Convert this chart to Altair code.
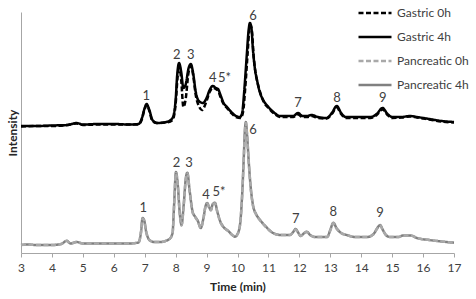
import altair as alt
import pandas as pd

# ---- data (time in min, intensity in arbitrary units) ----
g4_t = [3.0, 3.5, 4.0, 4.5, 4.8, 5.0, 5.5, 6.0, 6.5, 6.8, 6.9, 7.0, 7.06, 7.15, 7.25, 7.4, 7.7, 7.9,
        8.0, 8.05, 8.11, 8.18, 8.25, 8.32, 8.42, 8.49, 8.56, 8.65, 8.75, 8.88, 9.0, 9.1, 9.2, 9.3,
        9.37, 9.45, 9.55, 9.66, 9.8, 9.95, 10.08, 10.15, 10.22, 10.3, 10.36, 10.4, 10.45, 10.5,
        10.56, 10.63, 10.72, 10.83, 11.0, 11.2, 11.37, 11.6, 11.8, 11.96, 12.1, 12.25, 12.4, 12.6,
        12.88, 13.05, 13.21, 13.35, 13.5, 14.0, 14.3, 14.5, 14.69, 14.85, 15.0, 15.3, 15.58, 15.8,
        16.2, 16.6, 17.0]
g4_v = [127, 127, 127.5, 128, 130, 128.5, 129, 129, 128.5, 129, 134, 145, 149, 143, 133, 130, 131, 135,
        153, 178, 190, 181, 165, 168, 185, 189, 181, 161, 152, 150, 155, 163, 167, 165,
        164, 158, 150, 146, 141, 137, 136, 140, 163, 198, 223, 230, 225, 203,
        185, 173, 161, 153, 146, 140, 137, 137, 137, 140, 137, 137, 138, 136,
        135, 140, 147, 140, 136, 136, 136, 139, 145, 139, 136, 136, 137, 136,
        134, 132, 131]

g0_t = [3.0, 3.5, 4.0, 4.5, 4.8, 5.0, 5.5, 6.0, 6.5, 6.8, 6.9, 7.0, 7.07, 7.15, 7.25, 7.4, 7.7, 7.9,
        8.0, 8.06, 8.12, 8.18, 8.25, 8.32, 8.42, 8.5, 8.57, 8.65, 8.75, 8.85, 9.0, 9.1, 9.2, 9.3,
        9.38, 9.45, 9.55, 9.66, 9.8, 9.95, 10.1, 10.18, 10.25, 10.33, 10.38, 10.42, 10.47, 10.52,
        10.58, 10.65, 10.75, 10.85, 11.0, 11.2, 11.37, 11.6, 11.8, 11.96, 12.1, 12.25, 12.4, 12.6,
        12.88, 13.05, 13.21, 13.35, 13.5, 14.0, 14.3, 14.5, 14.69, 14.85, 15.0, 15.3, 15.58, 15.8,
        16.2, 16.6, 17.0]
g0_v = [126.5, 127, 127, 128, 129.5, 128, 128.5, 128.5, 128.5, 128.5, 133, 144, 148, 142, 132, 130, 130.5, 133,
        149, 175, 188, 173, 146, 153, 181, 187, 177, 158, 147, 143, 152, 161, 165, 164,
        162, 156, 149, 145, 140, 136, 135, 141, 165, 201, 223, 228, 221, 198,
        181, 170, 159, 151, 145, 139, 136, 136, 136, 138.5, 136, 136, 137, 135,
        134.5, 139, 145.5, 139, 135, 135, 135, 138, 143.5, 138, 135, 135.5, 136.5, 135.5,
        133.5, 131.5, 130.5]

p4_t = [3.0, 3.2, 3.5, 4.0, 4.3, 4.48, 4.6, 4.8, 5.0, 5.5, 6.0, 6.5, 6.8, 6.88, 6.93, 6.98, 7.05, 7.15,
        7.3, 7.5, 7.8, 7.9, 7.95, 8.01, 8.07, 8.13, 8.19, 8.26, 8.33, 8.38, 8.45, 8.55, 8.63, 8.72,
        8.81, 8.9, 8.96, 9.02, 9.08, 9.14, 9.2, 9.27, 9.35, 9.45, 9.54, 9.7, 9.85, 9.92, 10.0, 10.08,
        10.15, 10.2, 10.24, 10.27, 10.31, 10.36, 10.42, 10.5, 10.6, 10.73, 10.9, 11.15, 11.4, 11.7,
        11.8, 11.88, 11.95, 12.04, 12.14, 12.24, 12.35, 12.5, 12.9, 13.0, 13.1, 13.2, 13.35, 13.53,
        13.8, 14.2, 14.4, 14.52, 14.61, 14.7, 14.8, 14.93, 15.2, 15.35, 15.6, 15.8, 16.2, 16.6, 17.0]
p4_v = [8, 8.5, 8, 8, 9, 12.3, 9.5, 11, 9.5, 9.5, 9.5, 9.5, 10.5, 21, 35, 33, 21, 13,
        11, 11, 14, 20, 48, 81, 68, 41, 28, 48, 75, 80.3, 63, 41, 36.3, 32,
        25, 35, 46, 50, 46, 43, 49, 50.3, 41, 31, 26.3, 22, 17.5, 16.3, 19, 28,
        58, 93, 123, 131, 118, 93, 68, 48, 39, 33, 27, 20, 18, 18,
        21, 24, 21, 17, 19.5, 21.3, 18, 16, 16, 23, 30.3, 25, 20, 18,
        16, 16, 19, 25, 28, 23, 18, 16, 16, 17.5, 17.5, 15, 13, 11.5, 10.3]

p0_t = p4_t
p0_v = [8, 8.5, 8, 8, 9, 12, 9.5, 11, 9.5, 9.5, 9.5, 9.5, 10.5, 20.5, 34.5, 32.5, 20.5, 13,
        11, 11, 14, 19.5, 47, 80, 67, 40, 27.5, 47, 74, 79.5, 62, 40.5, 36, 31.5,
        25, 34.5, 45.5, 49.5, 45.5, 42.5, 48.5, 49.8, 40.5, 30.5, 26, 22, 17.5, 16.3, 18.5, 27.5,
        57, 92, 122, 130, 117, 92, 67, 47.5, 38.5, 32.5, 26.5, 20, 18, 18,
        21, 23.5, 21, 17, 19.5, 21, 18, 16, 16, 22.5, 30, 24.5, 20, 18,
        16, 16, 19, 24.5, 27.5, 23, 18, 16, 16, 17.5, 17.5, 15, 13, 11.5, 10.3]

series_names = ["Gastric 0h", "Gastric 4h", "Pancreatic 0h", "Pancreatic 4h"]
series_colors = ["#000000", "#000000", "#a9a9a9", "#808080"]
series_dash = [[5, 2.5], [1, 0], [5, 2.5], [1, 0]]
series_width = [2.5, 2.5, 1.5, 3]

# peak labels
lab_text = ["1", "2", "3", "4", "5*", "6", "7", "8", "9",
            "1", "2", "3", "4", "5*", "6", "7", "8", "9"]
lab_t = [7.05, 8.04, 8.49, 9.2, 9.58, 10.5, 11.96, 13.22, 14.7,
         6.95, 8.03, 8.43, 8.98, 9.4, 10.5, 11.88, 13.1, 14.61]
lab_v = [157, 198, 198, 175, 175, 237, 150, 155, 155,
         45, 90, 90, 58, 61, 123, 34, 41, 40]

x_ticks = list(range(3, 18))

frames = []
for name, t, v in zip(series_names, [g0_t, g4_t, p0_t, p4_t], [g0_v, g4_v, p0_v, p4_v]):
    frames.append(pd.DataFrame({"time": t, "intensity": v, "series": name}))
df = pd.concat(frames, ignore_index=True)
labels = pd.DataFrame({"time": lab_t, "intensity": lab_v, "text": lab_text})

FONT = "Lato"

x = alt.X("time:Q", scale=alt.Scale(domain=[3, 17], nice=False, zero=False),
          axis=alt.Axis(values=x_ticks, tickCount=15, title="Time (min)", grid=False,
                        labelFontSize=12, labelColor="#404040", labelFont=FONT,
                        tickColor="#a6a6a6", labelOverlap=False, labelFlush=False,
                        labelBound=False, format="d",
                        domainColor="#a6a6a6", tickSize=4, labelPadding=5,
                        titleFont=FONT, titleFontSize=12, titleFontWeight="bold",
                        titleColor="#262626", titlePadding=8))
y = alt.Y("intensity:Q", scale=alt.Scale(domain=[0, 241], nice=False),
          axis=alt.Axis(labels=False, ticks=False, grid=False, title="Intensity",
                        domainColor="#a6a6a6", titleFont=FONT, titleFontSize=12,
                        titleFontWeight="bold", titleColor="#262626", titlePadding=2))

color = alt.Color("series:N", scale=alt.Scale(domain=series_names, range=series_colors),
                  legend=alt.Legend(title=None, orient="none", legendX=336, legendY=-17,
                                    symbolType="stroke", symbolSize=1089, symbolStrokeWidth=2.5,
                                    labelFont=FONT, labelFontSize=12, labelColor="#404040",
                                    labelOffset=4, rowPadding=-10))
dash = alt.StrokeDash("series:N", scale=alt.Scale(domain=series_names, range=series_dash))
size = alt.StrokeWidth("series:N", scale=alt.Scale(domain=series_names, range=series_width))

base = alt.Chart(df)
layers = []
for name in ["Pancreatic 4h", "Pancreatic 0h", "Gastric 0h", "Gastric 4h"]:
    layers.append(base.transform_filter(alt.datum.series == name)
                  .mark_line(interpolate="monotone", strokeJoin="round")
                  .encode(x=x, y=y, color=color, strokeDash=dash, strokeWidth=size))

text = alt.Chart(labels).mark_text(font=FONT, fontSize=13, color="#404040",
                                   baseline="middle", align="center").encode(
    x=x, y=y, text="text:N")

chart = alt.layer(*layers, text).properties(
    width=433, height=241,
    autosize=alt.AutoSizeParams(type="none"),
    padding={"left": 21, "top": 12, "right": 22, "bottom": 46},
).configure_view(stroke=None)

chart.save("out.html", embed_options={"renderer": "svg", "actions": False})
